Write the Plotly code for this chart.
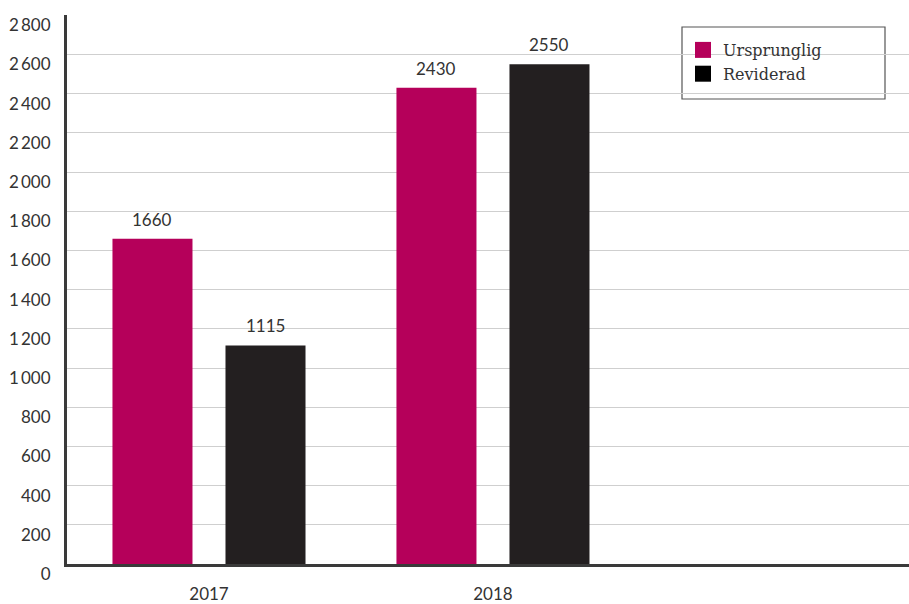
import plotly.graph_objects as go

# Data
years = ["2017", "2018"]
ursprunglig = [1660, 2430]
reviderad = [1115, 2550]
series_names = ["Ursprunglig", "Reviderad"]
y_ticks = [0, 200, 400, 600, 800, 1000, 1200, 1400, 1600, 1800, 2000, 2200, 2400, 2600, 2800]
y_tick_labels = [f"{v:,}".replace(",", "\u2009") for v in y_ticks]

MAGENTA = "#B5005A"
DARK = "#231F20"
TEXT = "#333333"

W, H = 909, 604
ml, mt, mb, mr = 67, 15, 40, 0
pw, ph = W - ml - mr, H - mt - mb

BARGAP, GROUPGAP = 0.204, 0.292
X_RANGE = [-0.5, 2.465]
px_per_cat = pw / (X_RANGE[1] - X_RANGE[0])
slot_px = px_per_cat * (1 - BARGAP) / 2  # width of each bar's slot in a group

fig = go.Figure()

series = [(series_names[0], ursprunglig, MAGENTA),
          (series_names[1], reviderad, DARK)]

for i, (name, vals, col) in enumerate(series):
    fig.add_trace(go.Bar(
        x=years, y=vals, name=name, marker=dict(color=col, line=dict(width=0)),
        showlegend=False,
    ))
    # Value labels above each bar (x given as category index)
    offset = (i - 0.5) * slot_px
    for j, v in enumerate(vals):
        fig.add_annotation(
            x=j, y=v, text=str(v), showarrow=False,
            xanchor="center", yanchor="bottom", xshift=offset, yshift=7,
            font=dict(family="Lato", size=17, color=TEXT),
        )

# Legend entries with square swatches
for name, col in [(series_names[0], MAGENTA), (series_names[1], "#000000")]:
    fig.add_trace(go.Scatter(
        x=[None], y=[None], mode="markers", name=name,
        marker=dict(symbol="square", size=16, color=col),
    ))

def px_x(px):
    return (px - ml) / pw

def px_y(py):
    return (H - mb - py) / ph

# Legend frame
fig.add_shape(type="rect", xref="paper", yref="paper",
              x0=px_x(682), x1=px_x(885), y0=px_y(99), y1=px_y(27),
              line=dict(color="#555555", width=1.2), fillcolor="white", layer="below")

fig.update_layout(
    width=W, height=H,
    margin=dict(l=ml, r=mr, t=mt, b=mb),
    paper_bgcolor="white", plot_bgcolor="white",
    barmode="group", bargap=BARGAP, bargroupgap=GROUPGAP,
    font=dict(family="Lato", size=17, color=TEXT),
    showlegend=True,
    legend=dict(
        x=px_x(683), y=px_y(33), xanchor="left", yanchor="top",
        bgcolor="rgba(0,0,0,0)", borderwidth=0,
        font=dict(family="DejaVu Serif", size=16, color=TEXT),
        tracegroupgap=0, itemsizing="trace",
    ),
    xaxis=dict(
        type="category", range=X_RANGE, automargin=False,
        showgrid=False, showline=True, linecolor="#3a3a3a", linewidth=3,
        ticks="", ticklabelstandoff=13,
        tickfont=dict(family="Lato", size=17, color=TEXT),
        zeroline=False,
    ),
    yaxis=dict(
        range=[0, 2801], tickvals=y_ticks, ticktext=y_tick_labels, automargin=False,
        showgrid=True, gridcolor="#cfcfcf", gridwidth=1.3,
        showline=True, linecolor="#3a3a3a", linewidth=3,
        ticks="", ticklabelstandoff=10, ticklabelshift=10,
        tickfont=dict(family="Lato", size=17, color=TEXT),
        zeroline=False,
    ),
)

fig.write_html("out.html")
